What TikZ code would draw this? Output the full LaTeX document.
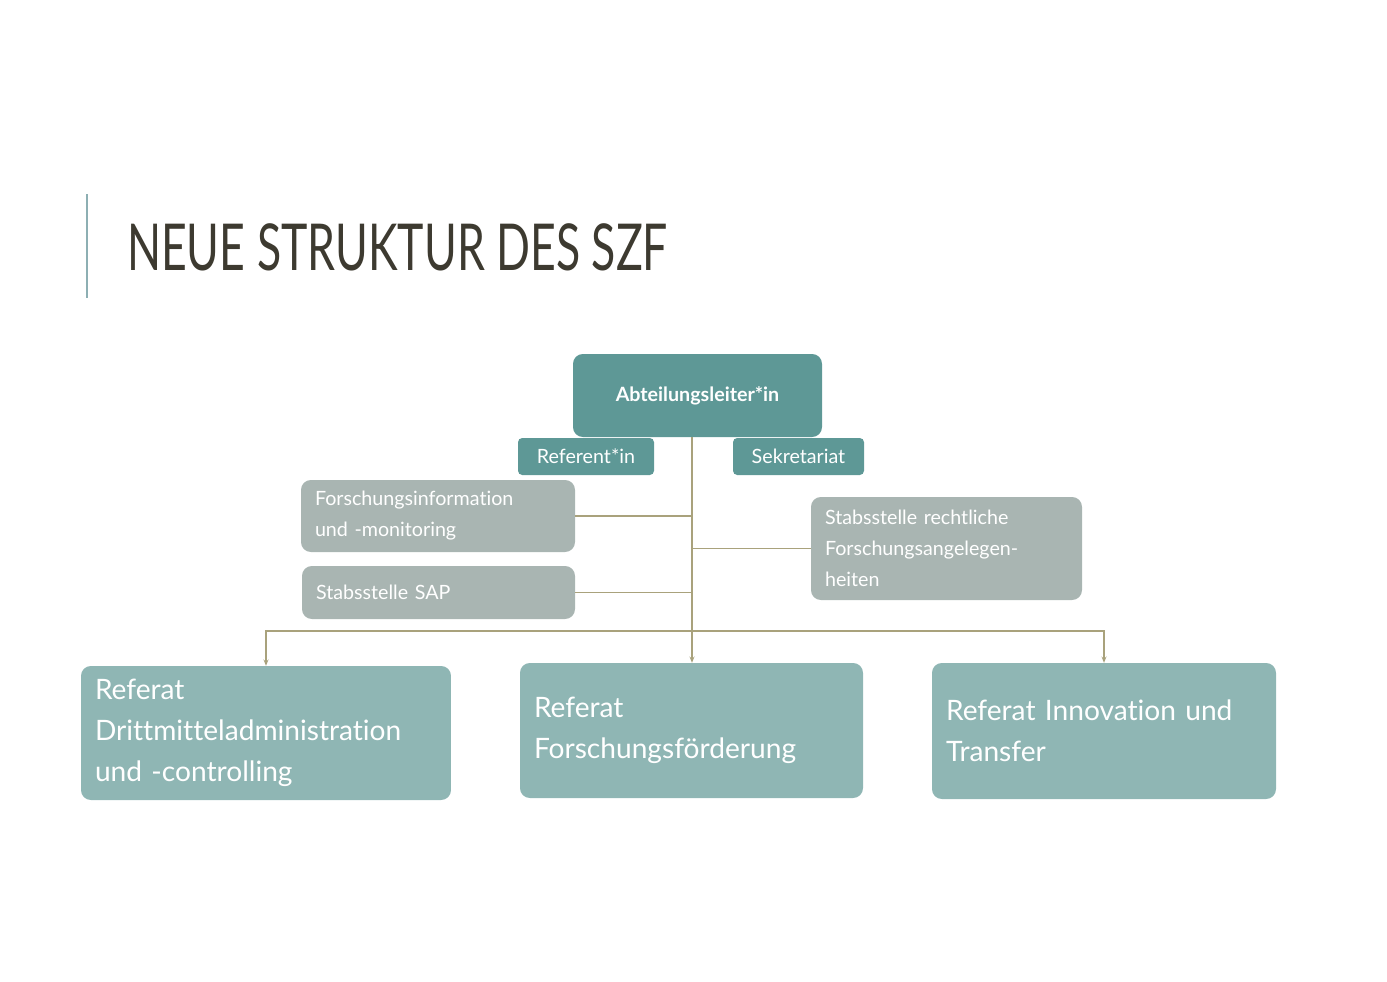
\documentclass[tikz,border=0pt]{standalone}
\usepackage{fontspec}
\setmainfont{Lato}[Ligatures={NoCommon,NoRare}]
\usetikzlibrary{positioning,arrows.meta}
\definecolor{tealdark}{HTML}{5E9896}
\definecolor{teallight}{HTML}{8FB6B4}
\definecolor{greybox}{HTML}{A9B5B2}
\definecolor{khaki}{HTML}{A9A27C}
\definecolor{titlecol}{HTML}{3D3A30}
\definecolor{barcol}{HTML}{8DAFB3}
\tikzset{
  box/.style={rounded corners=14pt, text=white, align=left, anchor=center, inner ysep=0pt, inner xsep=0.7cm},
  smallbox/.style={box, font=\fontsize{28}{44}\selectfont},
  bigbox/.style={box, fill=teallight, font=\fontsize{40}{58}\selectfont},
  link/.style={draw=khaki, line width=2pt},
}
\begin{document}
\begin{tikzpicture}[x=0.05cm,y=-0.05cm]
\useasboundingbox (0,0) rectangle (1387,981);
% title
\draw [barcol, line width=3pt] (87,194) -- (87,298);
\node [anchor=west, text=titlecol, xscale=0.69, inner sep=0pt] (title) at (127,247)
  {\fontsize{92}{92}\selectfont NEUE STRUKTUR DES SZF};

% nodes
\node [smallbox, fill=tealdark, minimum width=12.45cm, minimum height=4.15cm, align=center] (head) at (697.5,395.5) {\textbf{Abteilungsleiter*in}};
\node [smallbox, fill=tealdark, minimum width=6.8cm, minimum height=1.85cm, rounded corners=6pt, align=center, inner xsep=0pt] (ref) at (586,456.5) {Referent*in};
\node [smallbox, fill=tealdark, minimum width=6.55cm, minimum height=1.85cm, rounded corners=6pt, align=center, inner xsep=0pt] (sek) at (798.5,456.5) {Sekretariat};
\node [smallbox, fill=greybox, text width=12.3cm, minimum height=3.6cm] (info) at (438,516) {Forschungsinformation\\und -monitoring};
\node [smallbox, fill=greybox, text width=12.25cm, minimum height=2.65cm] (sap) at (438.5,592.5) {Stabsstelle SAP};
\node [smallbox, fill=greybox, text width=12.15cm, minimum height=5.15cm] (recht) at (946.5,548.5) {Stabsstelle rechtliche\\Forschungsangelegen-\\heiten};
\node [bigbox, text width=17.1cm, minimum height=6.7cm] (dritt) at (266,733) {Referat\\Drittmitteladministration\\und -controlling};
\node [bigbox, text width=15.75cm, minimum height=6.75cm] (foerd) at (691.5,730.5) {Referat\\Forschungsförderung};
\node [bigbox, text width=15.8cm, minimum height=6.8cm] (trans) at (1104,731) {Referat Innovation und\\Transfer};

% arrows
\coordinate (top) at (692,437);
\coordinate (hub) at (692,631);
\draw [link] (top) -- (hub);
\draw [link] (info.east) -- (info.east -| hub);
\draw [link] (sap.east) -- (sap.east -| hub);
\draw [link] (recht.west) -- (recht.west -| hub);
\draw [link, -{Stealth[length=9pt,width=7pt]}] (hub) -| (dritt.north);
\draw [link, -{Stealth[length=9pt,width=7pt]}] (hub) -| (trans.north);
\draw [link, -{Stealth[length=9pt,width=7pt]}] (hub) -- (hub |- foerd.north);
\end{tikzpicture}
\end{document}
